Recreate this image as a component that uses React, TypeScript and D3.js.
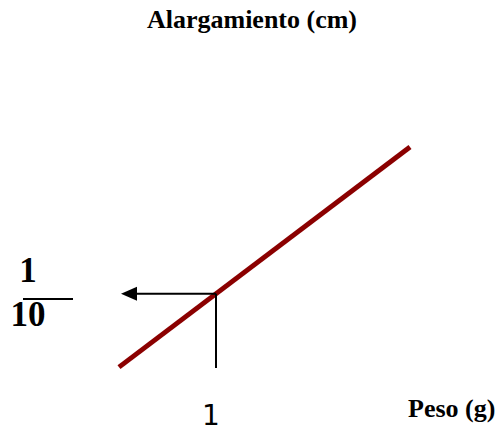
import React from "react";
import * as d3 from "d3";

const lineX = [0.5, 2];
const lineY = [0.05, 0.2];
const markX = 1;
const markY = 0.1;
const titleText = "Alargamiento (cm)";
const xLabel = "Peso (g)";
const xTick = "1";
const yNum = "1";
const yDen = "10";

export default function App() {
  const W = 498, H = 429;
  const x = d3.scaleLinear().domain([0, 2]).range([22, 410]);
  const y = d3.scaleLinear().domain([0, 0.2]).range([440.5, 147]);
  const pts: [number, number][] = lineX.map((v, i) => [x(v), y(lineY[i])]);
  const line = d3.line()(pts) || "";
  const mx = x(markX), my = y(markY);
  const arrowTip = 121;
  return (
    <svg width={W} height={H} style={{ position: "absolute", left: 0, top: 0, background: "#fff" }}>
      <text x={252} y={28} textAnchor="middle" fontFamily="Liberation Serif" fontWeight="bold" fontSize={26}>{titleText}</text>
      <path d={line} stroke="#8b0000" strokeWidth={5} fill="none" />
      <line x1={mx} y1={my} x2={mx} y2={368} stroke="#000" strokeWidth={2} />
      <line x1={mx} y1={my} x2={arrowTip + 14} y2={my} stroke="#000" strokeWidth={2} />
      <path d={`M${arrowTip},${my} L${arrowTip + 16},${my - 7} L${arrowTip + 16},${my + 7} Z`} fill="#000" />
      <text x={28} y={282} textAnchor="middle" fontFamily="Liberation Serif" fontWeight="bold" fontSize={35}>{yNum}</text>
      <line x1={23} y1={299} x2={73} y2={299} stroke="#000" strokeWidth={2} />
      <text x={28} y={326} textAnchor="middle" fontFamily="Liberation Serif" fontWeight="bold" fontSize={35}>{yDen}</text>
      <text x={211} y={425} textAnchor="middle" fontFamily="DejaVu Sans" fontSize={28}>{xTick}</text>
      <text x={408} y={417} fontFamily="Liberation Serif" fontWeight="bold" fontSize={26}>{xLabel}</text>
    </svg>
  );
}
